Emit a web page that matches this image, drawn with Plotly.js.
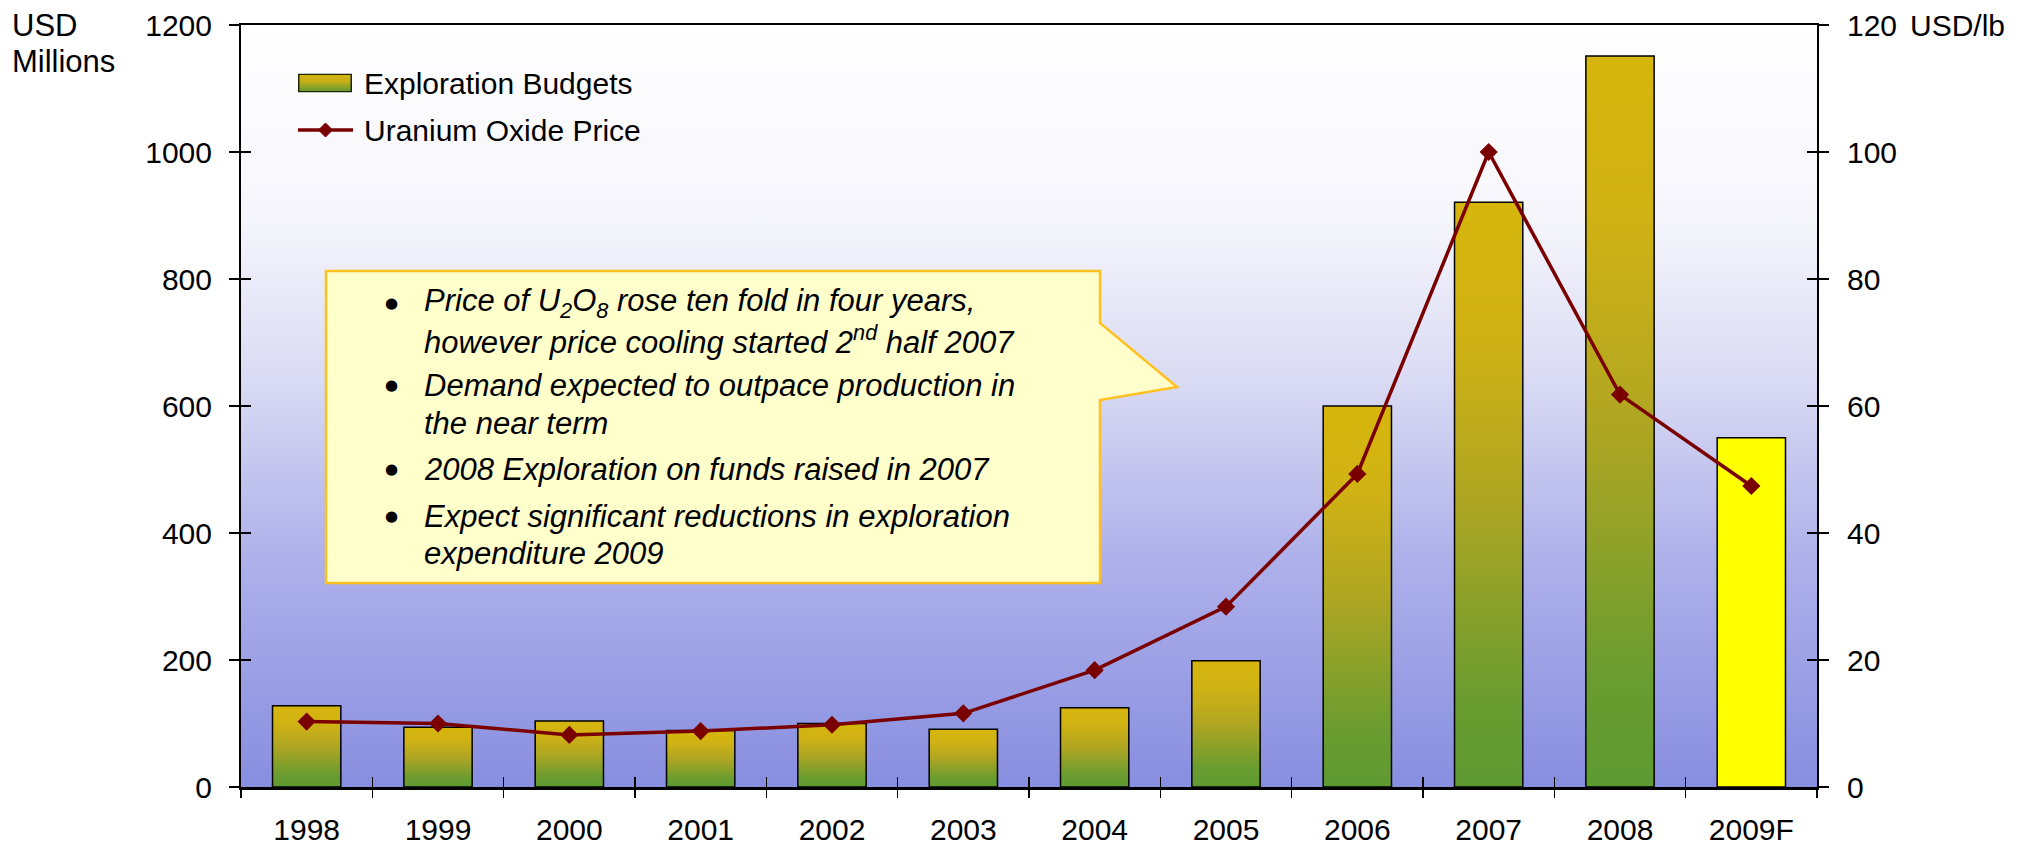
<!DOCTYPE html>
<html>
<head>
<meta charset="utf-8">
<script src="https://cdn.plot.ly/plotly-3.0.1.min.js"></script>
<style>
  html, body { margin: 0; padding: 0; background: #ffffff; }
  #chart { width: 2022px; height: 847px; }
</style>
</head>
<body>
<div id="chart"></div>
<script>
// ---- Data ----
const categories = ['1998', '1999', '2000', '2001', '2002', '2003', '2004', '2005', '2006', '2007', '2008', '2009F'];
const budgets = [128, 94, 104, 89, 100, 91, 125, 199, 600, 921, 1151, 550];       // USD Millions (left axis)
const price = [10.3, 10.0, 8.2, 8.8, 9.8, 11.6, 18.4, 28.4, 49.3, 100, 61.8, 47.4]; // USD/lb (right axis)
const forecastCategory = '2009F';
const leftTicks = [0, 200, 400, 600, 800, 1000, 1200];
const rightTicks = [0, 20, 40, 60, 80, 100, 120];
const seriesNames = ['Exploration Budgets', 'Uranium Oxide Price'];
// callout text: one list of lines per bullet
const bullets = [
  ['Price of U<sub>2</sub>O<sub>8</sub> rose ten fold in four years,', 'however price cooling started 2<sup>nd</sup> half 2007'],
  ['Demand expected to outpace production in', 'the near term'],
  ['2008 Exploration on funds raised in 2007'],
  ['Expect significant reductions in exploration', 'expenditure 2009']
];

// ---- Layout geometry (pixels) ----
const W = 2022, H = 847;
const M = { l: 241, r: 205, t: 25, b: 60 };
const PW = W - M.l - M.r, PH = H - M.t - M.b;
const px = x => (x - M.l) / PW;          // pixel -> paper x
const py = y => (H - M.b - y) / PH;      // pixel -> paper y

const FONT = 'Liberation Sans, Arial, Helvetica, sans-serif';
const barHalf = 0.26;
const GOLD = '#D6B60C', GREEN = '#5E9A32';
const barScale = [[0, GREEN], [0.15, '#6A9C30'], [0.5, '#B0A622'], [0.78, '#D0B214'], [1, GOLD]];

const traces = [];
categories.forEach((c, i) => {
  const v = budgets[i];
  const isF = c === forecastCategory;
  const t = {
    type: 'scatter', mode: 'lines',
    x: [i - barHalf, i - barHalf, i + barHalf, i + barHalf, i - barHalf],
    y: [0, v, v, 0, 0],
    xaxis: 'x', yaxis: 'y',
    fill: 'toself',
    line: { color: '#000000', width: 1.5 },
    name: seriesNames[0],
    showlegend: false,
    hoverinfo: 'skip'
  };
  if (isF) {
    t.fillcolor = '#FFFF00';
  } else {
    t.fillcolor = '#C8AE18';
    t.fillgradient = { type: 'vertical', colorscale: barScale };
  }
  traces.push(t);
});

traces.push({
  type: 'scatter', mode: 'lines+markers',
  x: categories.map((c, i) => i),
  y: price,
  xaxis: 'x', yaxis: 'y2',
  name: seriesNames[1],
  showlegend: false,
  line: { color: '#7A0000', width: 3.5 },
  marker: { symbol: 'diamond', size: 14, color: '#7A0000' },
  hoverinfo: 'skip'
});

// empty helper traces so that the tick-only overlay axes are drawn
traces.push({ type: 'scatter', x: [], y: [], xaxis: 'x2', yaxis: 'y3', showlegend: false, hoverinfo: 'skip' });
traces.push({ type: 'scatter', x: [], y: [], xaxis: 'x3', yaxis: 'y4', showlegend: false, hoverinfo: 'skip' });

const xRange = [-0.5, categories.length - 0.5];
const boundaries = categories.map((c, i) => i - 0.5).concat([categories.length - 0.5]);

// background gradient for the plot area
const bgSvg = '<svg xmlns="http://www.w3.org/2000/svg" width="100" height="100" viewBox="0 0 100 100" preserveAspectRatio="none">' +
  '<defs><linearGradient id="g" x1="0" y1="0" x2="0" y2="1">' +
  '<stop offset="0" stop-color="#FFFFFF"/>' +
  '<stop offset="0.25" stop-color="#F6F6FC"/>' +
  '<stop offset="0.45" stop-color="#DCDDF4"/>' +
  '<stop offset="0.7" stop-color="#AEB1EA"/>' +
  '<stop offset="1" stop-color="#888EE0"/>' +
  '</linearGradient></defs><rect x="0" y="0" width="100" height="100" fill="url(#g)"/></svg>';

// legend swatch with the bar gradient
const swSvg = '<svg xmlns="http://www.w3.org/2000/svg" width="54" height="19" viewBox="0 0 54 19" preserveAspectRatio="none">' +
  '<defs><linearGradient id="s" x1="0" y1="0" x2="0" y2="1">' +
  '<stop offset="0" stop-color="' + GOLD + '"/><stop offset="0.4" stop-color="#C8AE18"/>' +
  '<stop offset="1" stop-color="' + GREEN + '"/></linearGradient></defs>' +
  '<rect x="0.75" y="0.75" width="52.5" height="17.5" fill="url(#s)" stroke="#1C2600" stroke-width="1.5"/></svg>';

// callout box (pixel positions)
const box = { l: 326, r: 1100, t: 271, b: 583, p1: 323, tipX: 1177, tipY: 387, p2: 400 };
const calloutPath = 'M' + px(box.l) + ',' + py(box.t) +
  ' L' + px(box.r) + ',' + py(box.t) +
  ' L' + px(box.r) + ',' + py(box.p1) +
  ' L' + px(box.tipX) + ',' + py(box.tipY) +
  ' L' + px(box.r) + ',' + py(box.p2) +
  ' L' + px(box.r) + ',' + py(box.b) +
  ' L' + px(box.l) + ',' + py(box.b) + ' Z';

// legend geometry (pixels)
const leg = { symL: 298, symR: 353, row1: 83, row2: 130, textX: 362 };
const diamond = (cx, cy, r) => 'M' + px(cx - r) + ',' + py(cy) + ' L' + px(cx) + ',' + py(cy - r) +
  ' L' + px(cx + r) + ',' + py(cy) + ' L' + px(cx) + ',' + py(cy + r) + ' Z';

// callout line centres (pixels)
const lineY = [[303, 340], [385, 423], [469], [516, 553]];
const annotations = [];
bullets.forEach((lines, k) => {
  lines.forEach((ln, j) => {
    annotations.push({
      xref: 'paper', yref: 'paper', x: px(422), y: py(lineY[k][j]),
      xanchor: 'left', yanchor: 'middle', align: 'left', showarrow: false,
      text: '<i>' + ln + '</i>',
      font: { family: FONT, size: 31, color: '#000000' }
    });
  });
  annotations.push({
    xref: 'paper', yref: 'paper', x: px(391), y: py(lineY[k][0]),
    xanchor: 'center', yanchor: 'middle', showarrow: false,
    text: '\u25CF',
    font: { family: 'DejaVu Sans, sans-serif', size: 15, color: '#000000' }
  });
});
const txt = (x, y, t, size) => ({ xref: 'paper', yref: 'paper', x: px(x), y: py(y), xanchor: 'left',
  yanchor: 'middle', showarrow: false, text: t, font: { family: FONT, size: size, color: '#000' } });
annotations.push(txt(10, 25, 'USD', 31));
annotations.push(txt(10, 62, 'Millions', 31));
annotations.push(txt(1908, 25, 'USD/lb', 30));
annotations.push(txt(leg.textX, leg.row1, seriesNames[0], 30));
annotations.push(txt(leg.textX, leg.row2, seriesNames[1], 30));

const tickFont = { family: FONT, size: 30, color: '#000000' };

const layout = {
  width: W, height: H,
  margin: M,
  paper_bgcolor: '#FFFFFF',
  plot_bgcolor: 'rgba(0,0,0,0)',
  showlegend: false,
  xaxis: {
    range: xRange, tickmode: 'array',
    tickvals: categories.map((c, i) => i), ticktext: categories,
    ticks: '', showgrid: false, zeroline: false,
    showline: true, linecolor: '#000', linewidth: 2.5, mirror: true,
    tickfont: tickFont, ticklabelstandoff: 14
  },
  xaxis2: {
    overlaying: 'x', anchor: 'y3', range: xRange, tickmode: 'array', tickvals: boundaries,
    ticks: 'outside', ticklen: 10, tickwidth: 1.5, tickcolor: '#000',
    showticklabels: false, showgrid: false, zeroline: false, showline: false
  },
  xaxis3: {
    overlaying: 'x', anchor: 'y4', range: xRange, tickmode: 'array', tickvals: boundaries,
    ticks: 'inside', ticklen: 10, tickwidth: 1.5, tickcolor: '#000',
    showticklabels: false, showgrid: false, zeroline: false, showline: false
  },
  yaxis: {
    range: [0, 1200], tickmode: 'array', tickvals: leftTicks,
    ticks: 'outside', ticklen: 10, tickwidth: 1.5, tickcolor: '#000',
    showgrid: false, zeroline: false,
    showline: true, linecolor: '#000', linewidth: 2,
    tickfont: tickFont, ticklabelstandoff: 11
  },
  yaxis2: {
    overlaying: 'y', side: 'right', anchor: 'x', range: [0, 120], tickmode: 'array', tickvals: rightTicks,
    ticks: 'outside', ticklen: 10, tickwidth: 1.5, tickcolor: '#000',
    showgrid: false, zeroline: false,
    showline: true, linecolor: '#000', linewidth: 2,
    tickfont: tickFont, ticklabelstandoff: 12
  },
  yaxis3: {
    overlaying: 'y', anchor: 'x2', side: 'left', range: [0, 1200], tickmode: 'array', tickvals: leftTicks,
    ticks: 'inside', ticklen: 10, tickwidth: 1.5, tickcolor: '#000',
    showticklabels: false, showgrid: false, zeroline: false, showline: false
  },
  yaxis4: {
    overlaying: 'y', anchor: 'x3', side: 'right', range: [0, 120], tickmode: 'array', tickvals: rightTicks,
    ticks: 'inside', ticklen: 10, tickwidth: 1.5, tickcolor: '#000',
    showticklabels: false, showgrid: false, zeroline: false, showline: false
  },
  images: [{
    source: 'data:image/svg+xml;charset=utf-8,' + encodeURIComponent(bgSvg),
    xref: 'paper', yref: 'paper', x: 0, y: 1, sizex: 1, sizey: 1,
    xanchor: 'left', yanchor: 'top', sizing: 'stretch', layer: 'below'
  }, {
    source: 'data:image/svg+xml;charset=utf-8,' + encodeURIComponent(swSvg),
    xref: 'paper', yref: 'paper', x: px(leg.symL), y: py(leg.row1 - 9.5),
    sizex: px(leg.symL + 54) - px(leg.symL), sizey: py(leg.row1 - 9.5) - py(leg.row1 + 9.5),
    xanchor: 'left', yanchor: 'top', sizing: 'stretch', layer: 'above'
  }],
  shapes: [{
    type: 'path', xref: 'paper', yref: 'paper', path: calloutPath,
    fillcolor: '#FFFFCC', line: { color: '#FFC020', width: 2.5 }, layer: 'above'
  }, {
    type: 'line', xref: 'paper', yref: 'paper',
    x0: px(leg.symL), x1: px(leg.symR), y0: py(leg.row2), y1: py(leg.row2),
    line: { color: '#7A0000', width: 3.5 }, layer: 'above'
  }, {
    type: 'path', xref: 'paper', yref: 'paper', path: diamond((leg.symL + leg.symR) / 2, leg.row2, 7),
    fillcolor: '#7A0000', line: { color: '#7A0000', width: 1 }, layer: 'above'
  }],
  annotations: annotations
};

Plotly.newPlot('chart', traces, layout, { staticPlot: true, displayModeBar: false });
</script>
</body>
</html>
